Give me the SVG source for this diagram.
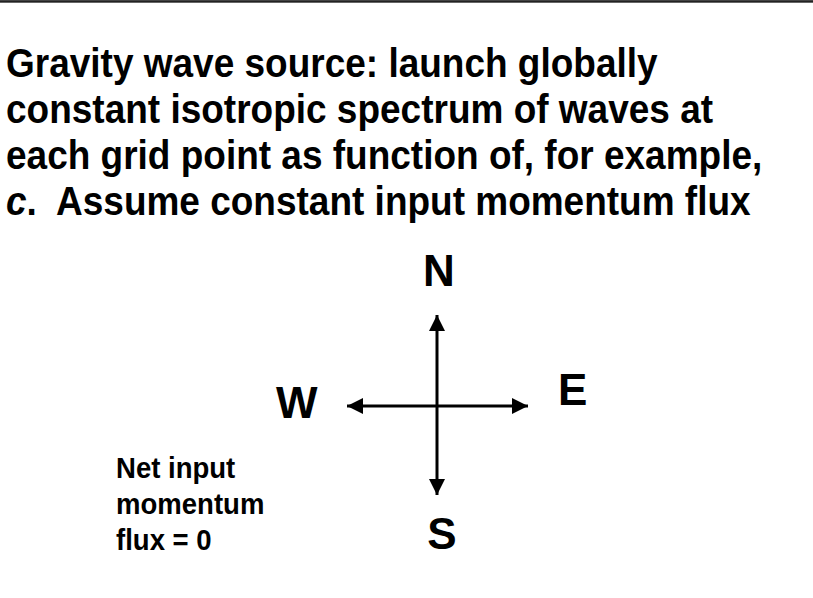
<svg xmlns="http://www.w3.org/2000/svg" width="813" height="598" viewBox="0 0 813 598">
<style>
.t{font-family:"Liberation Sans",Arial,sans-serif;font-weight:bold;fill:#000}
.title{font-size:40px}
.lbl{font-size:44px}
.note{font-size:29px}
.ax{stroke:#000;stroke-width:3;fill:none}
</style>
<defs>
<marker id="ah" viewBox="0 0 16 16" refX="16" refY="8" markerWidth="16" markerHeight="16" markerUnits="userSpaceOnUse" orient="auto-start-reverse">
<path d="M0,0 L16,8 L0,16 Z" fill="#000"/>
</marker>
</defs>
<rect x="0" y="0" width="813" height="3" fill="#666"/>
<rect x="0" y="0.5" width="813" height="1.5" fill="#222"/>
<g id="title">
<text class="t title" transform="translate(6,77) scale(0.925,1)">Gravity wave source: launch globally</text>
<text class="t title" transform="translate(6,123) scale(0.925,1)">constant isotropic spectrum of waves at</text>
<text class="t title" transform="translate(6,169) scale(0.925,1)">each grid point as function of, for example,</text>
<text class="t title" transform="translate(6,215) scale(0.925,1)" xml:space="preserve"><tspan font-style="italic">c</tspan>.  Assume constant input momentum flux</text>
</g>
<g id="connectors">
<line class="ax" x1="437" y1="406" x2="437" y2="315" marker-end="url(#ah)"/>
<line class="ax" x1="437" y1="406" x2="437" y2="495" marker-end="url(#ah)"/>
<line class="ax" x1="437" y1="406" x2="528" y2="406" marker-end="url(#ah)"/>
<line class="ax" x1="437" y1="406" x2="347" y2="406" marker-end="url(#ah)"/>
</g>
<g id="N"><text class="t lbl" x="439" y="286" text-anchor="middle">N</text></g>
<g id="E"><text class="t lbl" x="558" y="405">E</text></g>
<g id="W"><text class="t lbl" x="276" y="418">W</text></g>
<g id="S"><text class="t lbl" x="442" y="549" text-anchor="middle">S</text></g>
<g id="note">
<text class="t note" transform="translate(116,478) scale(0.95,1)">Net input</text>
<text class="t note" transform="translate(116,514) scale(0.95,1)">momentum</text>
<text class="t note" transform="translate(116,550) scale(0.95,1)">flux = 0</text>
</g>
</svg>
